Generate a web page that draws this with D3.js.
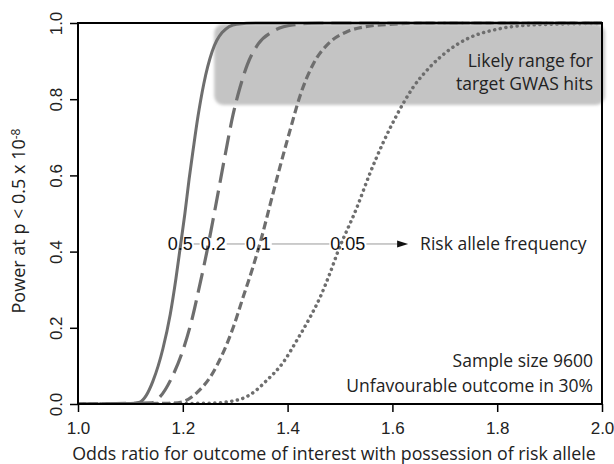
<!DOCTYPE html>
<html>
<head>
<meta charset="utf-8">
<script src="https://cdn.jsdelivr.net/npm/d3@7"></script>
<style>
  body { margin: 0; background: #fff; }
</style>
</head>
<body>
<svg id="chart"></svg>
<script>
var width = 614, height = 464;
var plotLeft = 78, plotRight = 602, plotTop = 23, plotBottom = 404;

// data: [odds ratio, power]
var freq05 = [[1.0, 0], [1.10, 0.001], [1.118, 0.005], [1.13, 0.022], [1.143, 0.06], [1.162, 0.145],
    [1.176, 0.235], [1.187, 0.33], [1.196, 0.42], [1.204, 0.50], [1.212, 0.59], [1.220, 0.67],
    [1.229, 0.755], [1.240, 0.84], [1.256, 0.925], [1.275, 0.975], [1.303, 0.997], [1.35, 1.0], [2.0, 1.0]];
var freq02 = [[1.0, 0], [1.14, 0.003], [1.156, 0.018], [1.181, 0.075], [1.200, 0.14], [1.218, 0.225],
    [1.232, 0.31], [1.246, 0.40], [1.260, 0.50], [1.281, 0.655], [1.296, 0.76], [1.309, 0.83],
    [1.323, 0.89], [1.344, 0.945], [1.372, 0.978], [1.41, 0.995], [1.46, 1.0], [2.0, 1.0]];
var freq01 = [[1.0, 0], [1.18, 0.002], [1.20, 0.006], [1.227, 0.03], [1.252, 0.07], [1.277, 0.135],
    [1.296, 0.20], [1.315, 0.28], [1.334, 0.36], [1.350, 0.435], [1.366, 0.52], [1.385, 0.62],
    [1.405, 0.72], [1.424, 0.81], [1.448, 0.89], [1.481, 0.95], [1.513, 0.977], [1.552, 0.991],
    [1.60, 0.997], [1.65, 1.0], [2.0, 1.0]];
var freq005 = [[1.0, 0], [1.25, 0.002], [1.296, 0.008], [1.328, 0.024], [1.361, 0.063], [1.391, 0.108],
    [1.418, 0.168], [1.443, 0.228], [1.462, 0.28], [1.481, 0.344], [1.496, 0.40], [1.532, 0.515],
    [1.557, 0.605], [1.582, 0.685], [1.609, 0.76], [1.639, 0.83], [1.672, 0.885], [1.704, 0.925],
    [1.742, 0.958], [1.805, 0.985], [1.868, 0.995], [2.0, 0.999]];

var freqLabels = ["0.5", "0.2", "0.1", "0.05"];
var labelOR = [1.195, 1.258, 1.344, 1.515];
var labelPower = 0.42;
var arrowEndOR = 1.63;

var shadeOR = [1.26, 2.0];
var shadePower = [0.785, 1.0];

var orTicks = [1.0, 1.2, 1.4, 1.6, 1.8, 2.0];
var powerTicks = [0.0, 0.2, 0.4, 0.6, 0.8, 1.0];

var x = d3.scaleLinear().domain([1.0, 2.0]).range([plotLeft, plotRight]);
var y = d3.scaleLinear().domain([0, 1]).range([plotBottom, plotTop]);

var svg = d3.select("#chart").attr("width", width).attr("height", height);
svg.append("rect").attr("width", width).attr("height", height).attr("fill", "#fff");

var defs = svg.append("defs");
defs.append("filter").attr("id", "soft").attr("x", "-10%").attr("y", "-30%").attr("width", "120%").attr("height", "160%")
    .append("feGaussianBlur").attr("stdDeviation", 1.8);
defs.append("clipPath").attr("id", "plotClip")
    .append("rect").attr("x", plotLeft).attr("y", plotTop - 2).attr("width", plotRight - plotLeft).attr("height", plotBottom - plotTop + 3);

// shaded "likely range" box
svg.append("rect")
    .attr("x", x(shadeOR[0]))
    .attr("y", y(shadePower[1]) + 1)
    .attr("width", x(shadeOR[1]) - x(shadeOR[0]) + 3)
    .attr("height", y(shadePower[0]) - y(shadePower[1]) - 1)
    .attr("rx", 9)
    .attr("fill", "#c4c4c4")
    .attr("filter", "url(#soft)");

// power curves
var line = d3.line().x(function(d) { return x(d[0]); }).y(function(d) { return y(d[1]); })
    .curve(d3.curveMonotoneX);
var gCurves = svg.append("g").attr("clip-path", "url(#plotClip)");
var curveStyles = [
    { data: freq05, dash: null, w: 3, cap: "butt" },
    { data: freq02, dash: "20,8", w: 3.2, cap: "butt" },
    { data: freq01, dash: "8,4", w: 3.2, cap: "butt" },
    { data: freq005, dash: "0.1,5.6", w: 3.5, cap: "round" }
];
curveStyles.forEach(function(c) {
    gCurves.append("path")
        .datum(c.data)
        .attr("d", line)
        .attr("fill", "none")
        .attr("stroke", "#6e6e6e")
        .attr("stroke-width", c.w)
        .attr("stroke-linecap", c.cap)
        .attr("stroke-dasharray", c.dash);
});

// risk allele frequency labels and arrow
var ly = y(labelPower);
var gLab = svg.append("g");
var labBoxes = [];
freqLabels.forEach(function(t, i) {
    var n = gLab.append("text")
        .attr("x", x(labelOR[i]))
        .attr("y", ly + 6.5)
        .attr("text-anchor", "middle")
        .style("font-family", "'Liberation Sans', Arial, sans-serif")
        .style("font-size", "18px")
        .attr("fill", "#111")
        .text(t);
    labBoxes.push(n.node().getBBox());
});
for (let i = 0; i < labBoxes.length; i++) {
    var x1 = labBoxes[i].x + labBoxes[i].width + 1;
    var x2 = i < labBoxes.length - 1 ? labBoxes[i + 1].x - 1 : x(arrowEndOR) - 10;
    gLab.append("line")
        .attr("x1", x1).attr("x2", x2).attr("y1", ly).attr("y2", ly)
        .attr("stroke", "#9a9a9a").attr("stroke-width", 1);
}
gLab.append("path")
    .attr("d", "M" + (x(arrowEndOR) - 11) + "," + (ly - 3.5) + "L" + x(arrowEndOR) + "," + ly + "L" + (x(arrowEndOR) - 11) + "," + (ly + 3.5) + "Z")
    .attr("fill", "#111");

var calibri = "'Open Sans', 'Noto Sans', sans-serif";
svg.append("text")
    .attr("x", x(arrowEndOR) + 12).attr("y", ly + 6)
    .style("font-family", calibri).style("font-size", "17.5px").attr("fill", "#222")
    .text("Risk allele frequency");

var notes = [
    { t: "Likely range for", y: 67 },
    { t: "target GWAS hits", y: 90 },
    { t: "Sample size 9600", y: 367 },
    { t: "Unfavourable outcome in 30%", y: 392 }
];
notes.forEach(function(n) {
    svg.append("text")
        .attr("x", 593).attr("y", n.y)
        .attr("text-anchor", "end")
        .style("font-family", calibri).style("font-size", "17.5px").attr("fill", "#222")
        .text(n.t);
});

// axes
var xAxis = svg.append("g").attr("transform", "translate(0," + plotBottom + ")")
    .call(d3.axisBottom(x).tickValues(orTicks).tickSize(8).tickPadding(6).tickFormat(d3.format(".1f")));
xAxis.select(".domain").remove();
xAxis.selectAll("line").attr("stroke", "#000").attr("stroke-width", 1.5);
xAxis.selectAll("text")
    .style("font-family", "'Liberation Sans', Arial, sans-serif").style("font-size", "17px").attr("fill", "#222")
    .attr("dy", "0.92em");

var yAxis = svg.append("g").attr("transform", "translate(" + plotLeft + ",0)")
    .call(d3.axisLeft(y).tickValues(powerTicks).tickSize(8).tickFormat(d3.format(".1f")));
yAxis.select(".domain").remove();
yAxis.selectAll("line").attr("stroke", "#000").attr("stroke-width", 1.5);
yAxis.selectAll("text")
    .attr("x", null).attr("dy", null)
    .attr("text-anchor", "middle")
    .attr("transform", "translate(-16,0) rotate(-90)")
    .style("font-family", "'Liberation Sans', Arial, sans-serif").style("font-size", "17px").attr("fill", "#222");

// frame
svg.append("rect")
    .attr("x", plotLeft).attr("y", plotTop).attr("width", plotRight - plotLeft).attr("height", plotBottom - plotTop)
    .attr("fill", "none").attr("stroke", "#000").attr("stroke-width", 2);

// axis titles
svg.append("text")
    .attr("x", 334).attr("y", 460)
    .attr("text-anchor", "middle")
    .style("font-family", calibri).style("font-size", "17.8px").attr("fill", "#222")
    .text("Odds ratio for outcome of interest with possession of risk allele");

var yTitle = svg.append("text")
    .attr("transform", "translate(25,221) rotate(-90)")
    .attr("text-anchor", "middle")
    .style("font-family", calibri).style("font-size", "18px").attr("fill", "#222");
yTitle.append("tspan").text("Power at p < 0.5 x 10");
yTitle.append("tspan").attr("dy", "-0.45em").style("font-size", "12px").text("-8");
</script>
</body>
</html>
